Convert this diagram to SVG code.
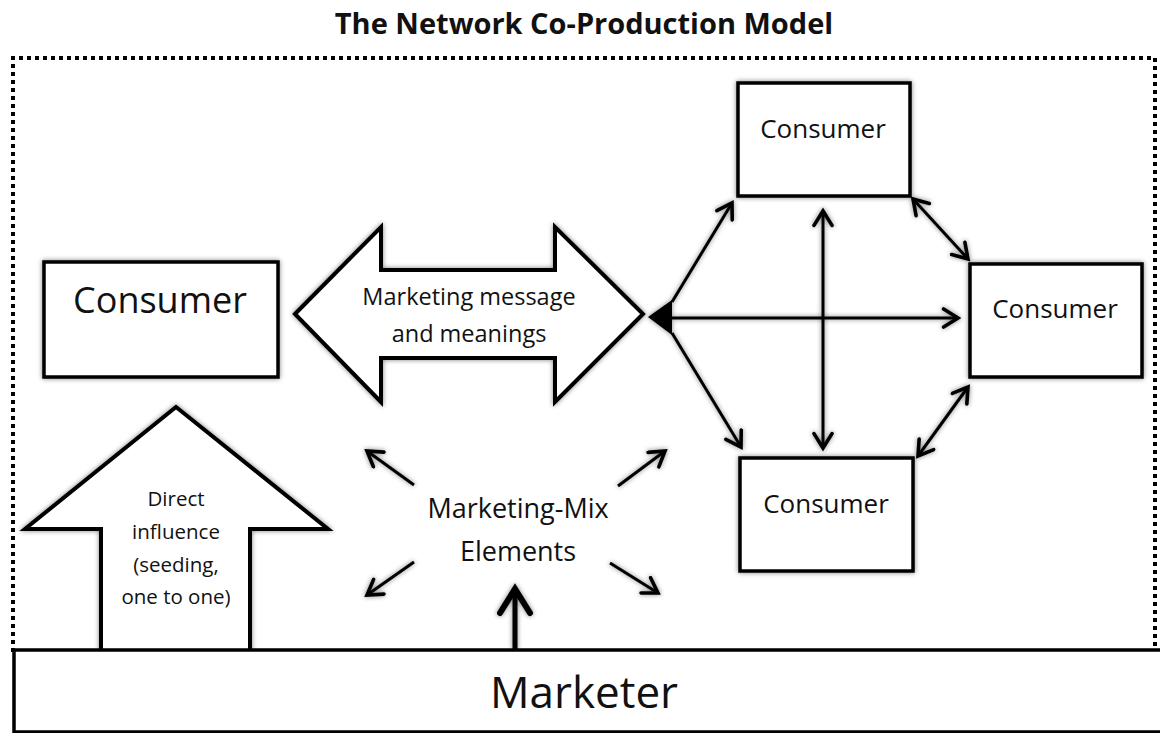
<svg xmlns="http://www.w3.org/2000/svg" width="1160" height="733" viewBox="0 0 1160 733">
  <style>
    .box { fill: #fff; stroke: #000; stroke-width: 3.5; filter: url(#soft); }
    .shape { fill: #fff; stroke: #000; stroke-width: 4; stroke-linejoin: miter; filter: url(#soft); }
    .lbl { font-family: "Open Sans", "Liberation Sans", sans-serif; fill: #111; text-anchor: middle; }
    .conn { stroke: #000; stroke-width: 3; fill: none; filter: url(#soft); }
  </style>
  <defs>
    <filter id="soft" filterUnits="userSpaceOnUse" x="0" y="0" width="1160" height="733">
      <feGaussianBlur in="SourceAlpha" stdDeviation="2.5"/>
      <feComponentTransfer><feFuncA type="linear" slope="0.5"/></feComponentTransfer>
      <feMerge><feMergeNode/><feMergeNode in="SourceGraphic"/></feMerge>
    </filter>
    <marker id="head" viewBox="0 0 12 12" refX="10" refY="6" markerWidth="7.2" markerHeight="7.2" orient="auto-start-reverse" markerUnits="strokeWidth">
      <path d="M2,1 L10,6 L2,11" fill="none" stroke="#000" stroke-width="2" stroke-linecap="round" stroke-linejoin="miter"/>
    </marker>
  </defs>

  <rect width="1160" height="733" fill="#fff"/>

  <text class="lbl" x="584" y="34" font-size="29" font-weight="bold" fill="#000">The Network Co-Production Model</text>

  <!-- dotted frame -->
  <path d="M13,652 L13,58 L1155,58 L1155,652" fill="none" stroke="#000" stroke-width="4" stroke-dasharray="4,4"/>

  <g id="connectors">
    <!-- hub fan-out -->
    <path d="M648,317 L672,300 L672,335 Z" fill="#000" filter="url(#soft)"/>
    <line class="conn" x1="672" y1="302" x2="732" y2="203" marker-end="url(#head)"/>
    <line class="conn" x1="672" y1="333" x2="741" y2="447" marker-end="url(#head)"/>
    <line class="conn" x1="672" y1="318" x2="958" y2="318" marker-end="url(#head)"/>
    <!-- consumer to consumer -->
    <line class="conn" x1="823" y1="211" x2="823" y2="448" marker-start="url(#head)" marker-end="url(#head)"/>
    <line class="conn" x1="913" y1="199" x2="968" y2="259" marker-start="url(#head)" marker-end="url(#head)"/>
    <line class="conn" x1="968" y1="387" x2="918" y2="456" marker-start="url(#head)" marker-end="url(#head)"/>
    <!-- marketing-mix radiating arrows -->
    <line class="conn" x1="414" y1="485" x2="367" y2="451" marker-end="url(#head)"/>
    <line class="conn" x1="618" y1="486" x2="665" y2="451" marker-end="url(#head)"/>
    <line class="conn" x1="414" y1="562" x2="367" y2="595" marker-end="url(#head)"/>
    <line class="conn" x1="610" y1="563" x2="658" y2="593" marker-end="url(#head)"/>
    <line x1="515" y1="650" x2="515" y2="589" stroke="#000" stroke-width="5" marker-end="url(#head)" filter="url(#soft)"/>
  </g>

  <g id="direct-influence">
    <path class="shape" d="M101,652 L101,529 L25,529 L176,407 L328,529 L250,529 L250,652"/>
    <text class="lbl" font-size="20.5"><tspan x="176" y="506">Direct</tspan><tspan x="176" y="539">influence</tspan><tspan x="176" y="572">(seeding,</tspan><tspan x="176" y="604">one to one)</tspan></text>
  </g>

  <g id="message-arrow">
    <path class="shape" d="M295,314 L381,227 L381,270 L555,270 L555,227 L643,314 L555,402 L555,358 L381,358 L381,402 Z"/>
    <text class="lbl" font-size="23.5"><tspan x="469" y="305">Marketing message</tspan><tspan x="469" y="342">and meanings</tspan></text>
  </g>

  <g id="consumer-left">
    <rect class="box" x="44" y="262" width="234" height="115"/>
    <text class="lbl" x="160" y="313" font-size="36">Consumer</text>
  </g>

  <g id="consumer-top">
    <rect class="box" x="738" y="83" width="172" height="113"/>
    <text class="lbl" x="823" y="138" font-size="26">Consumer</text>
  </g>

  <g id="consumer-right">
    <rect class="box" x="970" y="264" width="172" height="113"/>
    <text class="lbl" x="1055" y="318" font-size="26">Consumer</text>
  </g>

  <g id="consumer-bottom">
    <rect class="box" x="740" y="458" width="173" height="113"/>
    <text class="lbl" x="826" y="513" font-size="26">Consumer</text>
  </g>

  <g id="marketing-mix">
    <text class="lbl" font-size="27"><tspan x="518" y="518">Marketing-Mix</tspan><tspan x="518" y="561">Elements</tspan></text>
  </g>

  <g id="marketer">
    <rect x="14" y="650" width="1150" height="82" fill="#fff" stroke="#000" stroke-width="3.5"/>
    <text class="lbl" x="584" y="708" font-size="44">Marketer</text>
  </g>
</svg>
